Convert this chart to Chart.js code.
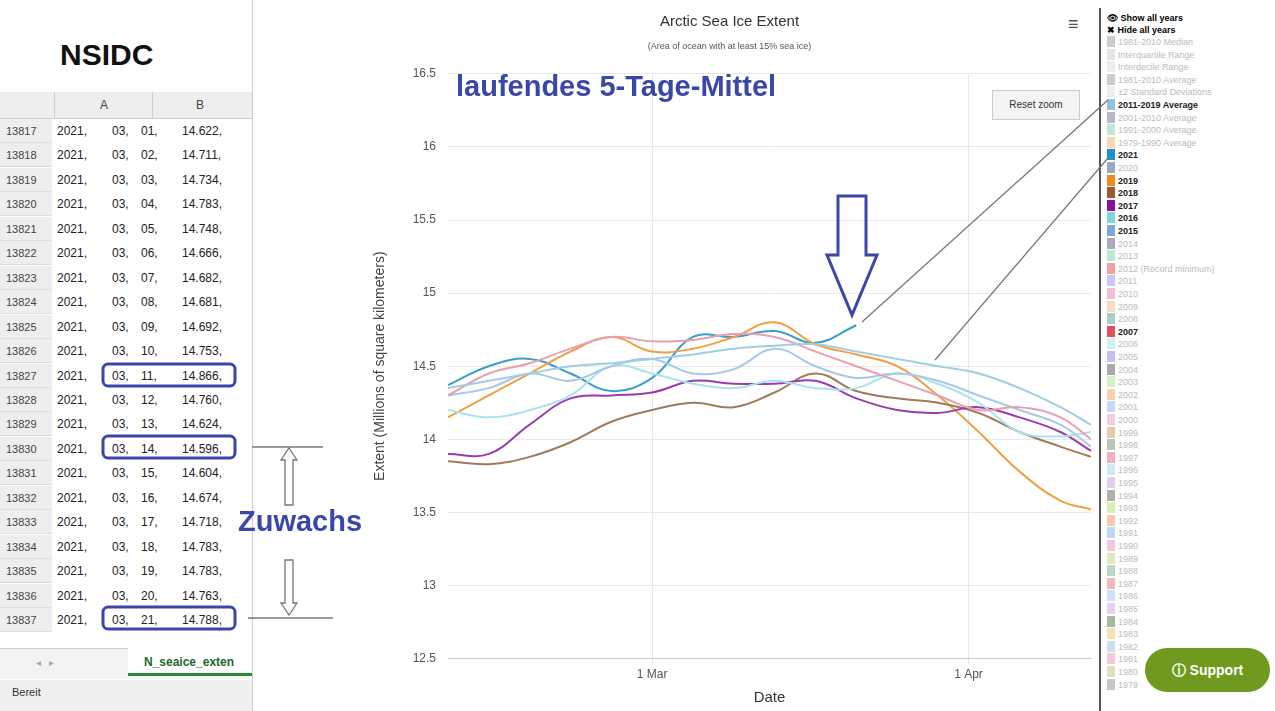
<!DOCTYPE html>
<html><head><meta charset="utf-8">
<script src="https://cdn.jsdelivr.net/npm/chart.js@4"></script>
<style>
body{margin:0;width:1275px;height:711px;overflow:hidden;background:#fff;font-family:"Liberation Sans",Arial,sans-serif;position:relative}
#sheet{position:absolute;left:0;top:0;width:252px;height:711px;background:#fff}
.row{position:absolute;left:0;height:24px;font-size:12px;line-height:24px;color:#222}
.rn{position:absolute;left:0;width:52px;height:24px;background:#eee;color:#444;font-size:11px;text-align:left;padding-left:6px;box-sizing:border-box;border-bottom:1px solid #ddd}
#chartwrap{position:absolute;left:252px;top:0;width:848px;height:711px;background:#fff;border-left:1px solid #ccc}
#legend{position:absolute;left:1099px;top:8px;width:176px;height:703px;border-left:2px solid #555;background:#fff;font-size:9px}
.li{position:absolute;left:6px;height:12px;line-height:12px;white-space:nowrap}
.sw{display:inline-block;width:8px;height:11px;vertical-align:top;margin-right:3px}
svg{position:absolute;left:0;top:0;pointer-events:none}
</style></head><body>
<div id="sheet"></div>
<div id="chartwrap"><canvas id="c" width="848" height="711"></canvas></div>
<div id="legend"></div>
<div style="position:absolute;left:456px;top:70px;font-size:29px;font-weight:bold;color:#3a47a8">laufendes 5-Tage-Mittel</div>
<div style="position:absolute;left:238px;top:505px;font-size:29px;font-weight:bold;color:#3a47a8">Zuwachs</div>
<div style="position:absolute;left:992px;top:90px;width:86px;height:28px;background:#f4f4f4;border:1px solid #ccc;font-size:10px;line-height:28px;text-align:center;color:#333">Reset zoom</div>
<div style="position:absolute;left:1068px;top:14px;font-size:18px;color:#555">&#8801;</div>
<div style="position:absolute;left:1145px;top:648px;width:125px;height:44px;border-radius:22px;background:#6f9a1e;color:#fff;font-weight:bold;font-size:14px;line-height:44px;text-align:center">&#9432; Support</div>
<svg width="1275" height="711">
 <g fill="none" stroke="#3a47a8" stroke-width="3">
  <path d="M838 196 L866 196 L866 255 L877 255 L852 315 L827 255 L838 255 Z"/>
  <rect x="103" y="364" width="132" height="22" rx="5"/>
  <rect x="103" y="436" width="132" height="22" rx="5"/>
  <rect x="103" y="607" width="132" height="22" rx="5"/>
 </g>
 <g fill="none" stroke="#777" stroke-width="1.3">
  <path d="M289 448 L297 460 L293 460 L293 505 L285 505 L285 460 L281 460 Z"/>
  <path d="M285 560 L293 560 L293 603 L297 603 L289 615 L281 603 L285 603 Z"/>
  <line x1="252" y1="447" x2="323" y2="447"/>
  <line x1="248" y1="618" x2="333" y2="618"/>
  <line x1="862" y1="322" x2="1108" y2="100"/>
  <line x1="935" y1="360" x2="1108" y2="158"/>
 </g>
</svg>
<script>
// ---- data ----
const days = [-20,-16,-12,-8,-4,0,4,8,12,16,20,24,28,32,36,40,43];
const xTickDays = [0,31];
const xTickLabels = ['1 Mar','1 Apr'];
const avg2011_2019 = [14.35,14.4,14.45,14.5,14.52,14.55,14.58,14.62,14.64,14.65,14.6,14.55,14.5,14.45,14.35,14.22,14.1];
const y2021 = [14.37,14.5,14.55,14.45,14.33,14.42,14.7,14.7,14.74,14.66,14.78,null,null,null,null,null,null];
const y2019 = [14.15,14.3,14.45,14.6,14.7,14.6,14.62,14.7,14.8,14.65,14.58,14.5,14.3,14.05,13.78,13.58,13.52];
const y2018 = [13.85,13.83,13.88,13.98,14.12,14.2,14.25,14.22,14.32,14.45,14.33,14.28,14.25,14.18,14.05,13.95,13.88];
const y2017 = [13.9,13.9,14.1,14.28,14.3,14.32,14.4,14.38,14.38,14.4,14.28,14.2,14.18,14.22,14.15,14.05,13.92];
const y2016 = [14.2,14.15,14.2,14.3,14.5,14.45,14.38,14.35,14.4,14.35,14.35,14.45,14.38,14.25,14.05,14.02,14.05];
const y2015 = [14.3,14.35,14.45,14.4,14.5,14.55,14.45,14.48,14.62,14.5,14.42,14.45,14.4,14.3,14.2,14.1,13.95];
const y2007 = [14.3,14.45,14.52,14.62,14.7,14.67,14.68,14.72,14.7,14.6,14.5,14.4,14.3,14.2,14.22,14.15,14.0];
const yTicks = [12.5,13,13.5,14,14.5,15,15.5,16,16.5];
const sheetDays = ['01','02','03','04','05','06','07','08','09','10','11','12','13','14','15','16','17','18','19','20','21'];
const sheetValues = ['14.622','14.711','14.734','14.783','14.748','14.666','14.682','14.681','14.692','14.753','14.866','14.760','14.624','14.596','14.604','14.674','14.718','14.783','14.783','14.763','14.788'];
const legendItems = [
 ['1981-2010 Median','#ccc',0],['Interquartile Range','#e5e5e5',0],['Interdecile Range','#eee',0],
 ['1981-2010 Average','#ccc',0],['±2 Standard Deviations','#eee',0],['2011-2019 Average','#8fc3e0',1],
 ['2001-2010 Average','#b8b8c8',0],['1991-2000 Average','#bfe8d8',0],['1979-1990 Average','#f6d9b5',0],
 ['2021','#1f8fd0',1],['2020','#9ab',0],['2019','#f08a1a',1],['2018','#9a5a30',1],['2017','#8a10a0',1],
 ['2016','#7fd6e0',1],['2015','#7fa8d8',1],['2014','#aab',0],['2013','#bfe8d0',0],
 ['2012 (Record minimum)','#f2a0a0',0],['2011','#c8c8f0',0],['2010','#f0c0d0',0],['2009','#f8dcc0',0],
 ['2008','#a8d0c8',0],['2007','#e05060',1],['2006','#d0f0f8',0],['2005','#c8c0e8',0],['2004','#aaa',0],
 ['2003','#d8f0c8',0],['2002','#f8d0b0',0],['2001','#c8d8f8',0],['2000','#f0d0e0',0],['1999','#e8c8a8',0],
 ['1998','#b8c8b8',0],['1997','#f0b0c0',0],['1996','#d0e8f8',0],['1995','#e0d0f0',0],['1994','#b0b0b0',0],
 ['1993','#d8f0b8',0],['1992','#f8c8a8',0],['1991','#c0d8f0',0],['1990','#f0c8e0',0],['1989','#e0e8c0',0],
 ['1988','#b8d8c8',0],['1987','#f0b8b8',0],['1986','#d0e0f8',0],['1985','#e8d0f0',0],['1984','#a8b8a8',0],
 ['1983','#f8e0b0',0],['1982','#c8e0f0',0],['1981','#f0c8d8',0],['1980','#e0e0c0',0],['1979','#c8c8c8',0]];

// spreadsheet
const sh=document.getElementById('sheet');
let h='<div style="position:absolute;left:60px;top:38px;font-size:30px;font-weight:bold;color:#111">NSIDC</div>';
h+='<div style="position:absolute;left:0;top:92px;width:252px;height:26px;background:#eee;border-bottom:1px solid #ccc;font-size:12px;color:#444"><span style="position:absolute;left:100px;top:6px">A</span><span style="position:absolute;left:196px;top:6px">B</span><span style="position:absolute;left:152px;top:0;height:26px;border-left:1px solid #ccc"></span><span style="position:absolute;left:54px;top:0;height:26px;border-left:1px solid #ccc"></span></div>';
sheetDays.forEach((d,i)=>{const t=119+i*24.45;
 h+=`<div class="row" style="top:${t}px;width:252px"><span class="rn">${13817+i}</span><span style="position:absolute;left:57px">2021,</span><span style="position:absolute;left:112px">03,</span><span style="position:absolute;left:141px">${d},</span><span style="position:absolute;left:182px">${sheetValues[i]},</span></div>`;});
h+='<div class="row" style="top:633px;height:14px;overflow:hidden"><span class="rn">13838</span></div>'+
 '<div style="position:absolute;left:0;top:648px;width:252px;height:30px;background:#f3f3f3;border-top:1px solid #ccc"><span style="position:absolute;left:36px;top:8px;color:#aaa;font-size:10px">&#9666; &nbsp; &#9656;</span></div>'+
 '<div style="position:absolute;left:128px;top:648px;width:124px;height:28px;background:#fff;border-bottom:3px solid #2a8a3a;color:#1a6a2a;font-weight:bold;font-size:12px;line-height:28px;padding-left:16px;box-sizing:border-box">N_seaice_exten</div>'+
 '<div style="position:absolute;left:0;top:680px;width:252px;height:31px;background:#f0f0f0;font-size:11px;color:#333;line-height:24px;padding-left:12px">Bereit</div>';
sh.innerHTML=h;
// legend
const lg=document.getElementById('legend');
let lh='<div class="li" style="top:4px;font-weight:bold">&#128065; Show all years</div><div class="li" style="top:16px;font-weight:bold">&#10006; Hide all years</div>';
legendItems.forEach((it,i)=>{lh+=`<div class="li" style="top:${28+i*12.6}px;color:${it[2]?'#222':'#bbb'};font-weight:${it[2]?'bold':'normal'}"><span class="sw" style="background:${it[1]}"></span>${it[0]}</div>`;});
lg.innerHTML=lh;

const ds=(label,data,color,w)=>({label,data:days.map((d,i)=>({x:d,y:data[i]})),borderColor:color,borderWidth:w||2,pointRadius:0,tension:0.4,fill:false,spanGaps:false});
new Chart(document.getElementById('c'),{type:'line',
 data:{datasets:[
  ds('2011-2019 Average',avg2011_2019,'#9fcde4',2),
  ds('2007',y2007,'#e8a0b0'),
  ds('2015',y2015,'#a8c8e8'),
  ds('2016',y2016,'#a8e4ee'),
  ds('2017',y2017,'#9a3cb0'),
  ds('2018',y2018,'#a07a5a'),
  ds('2019',y2019,'#f0a040'),
  ds('2021',y2021,'#3aa0c8')]},
 options:{responsive:false,animation:false,
  layout:{padding:{left:115,right:10,top:0,bottom:0}},
  plugins:{legend:{display:false},tooltip:{enabled:false},
   title:{display:true,text:'Arctic Sea Ice Extent',color:'#333',font:{size:15,weight:'normal',family:'Liberation Sans'},padding:{top:13,bottom:10}},
   subtitle:{display:true,text:'(Area of ocean with at least 15% sea ice)',color:'#555',font:{size:9},padding:{bottom:22}}},
  scales:{
   x:{type:'linear',min:-20,max:43,
    afterBuildTicks:a=>{a.ticks=xTickDays.map(v=>({value:v}));},
    ticks:{callback:(v)=>xTickLabels[xTickDays.indexOf(v)],color:'#555',font:{size:12},maxRotation:0},
    grid:{color:'#e6e6e6',drawTicks:true,tickLength:6},border:{color:'#ccc'},
    title:{display:true,text:'Date',color:'#333',font:{size:15},padding:{top:4}}},
   y:{min:12.5,max:16.5,
    afterBuildTicks:a=>{a.ticks=yTicks.map(v=>({value:v}));},
    afterFit:a=>{a.width=80;},
    ticks:{callback:v=>String(v),color:'#555',font:{size:12},padding:12},
    grid:{color:'#e8e8e8',drawTicks:false},border:{display:false},
    title:{display:true,text:'Extent (Millions of square kilometers)',color:'#444',font:{size:14},padding:{bottom:8}}}}}});
</script>
</body></html>
